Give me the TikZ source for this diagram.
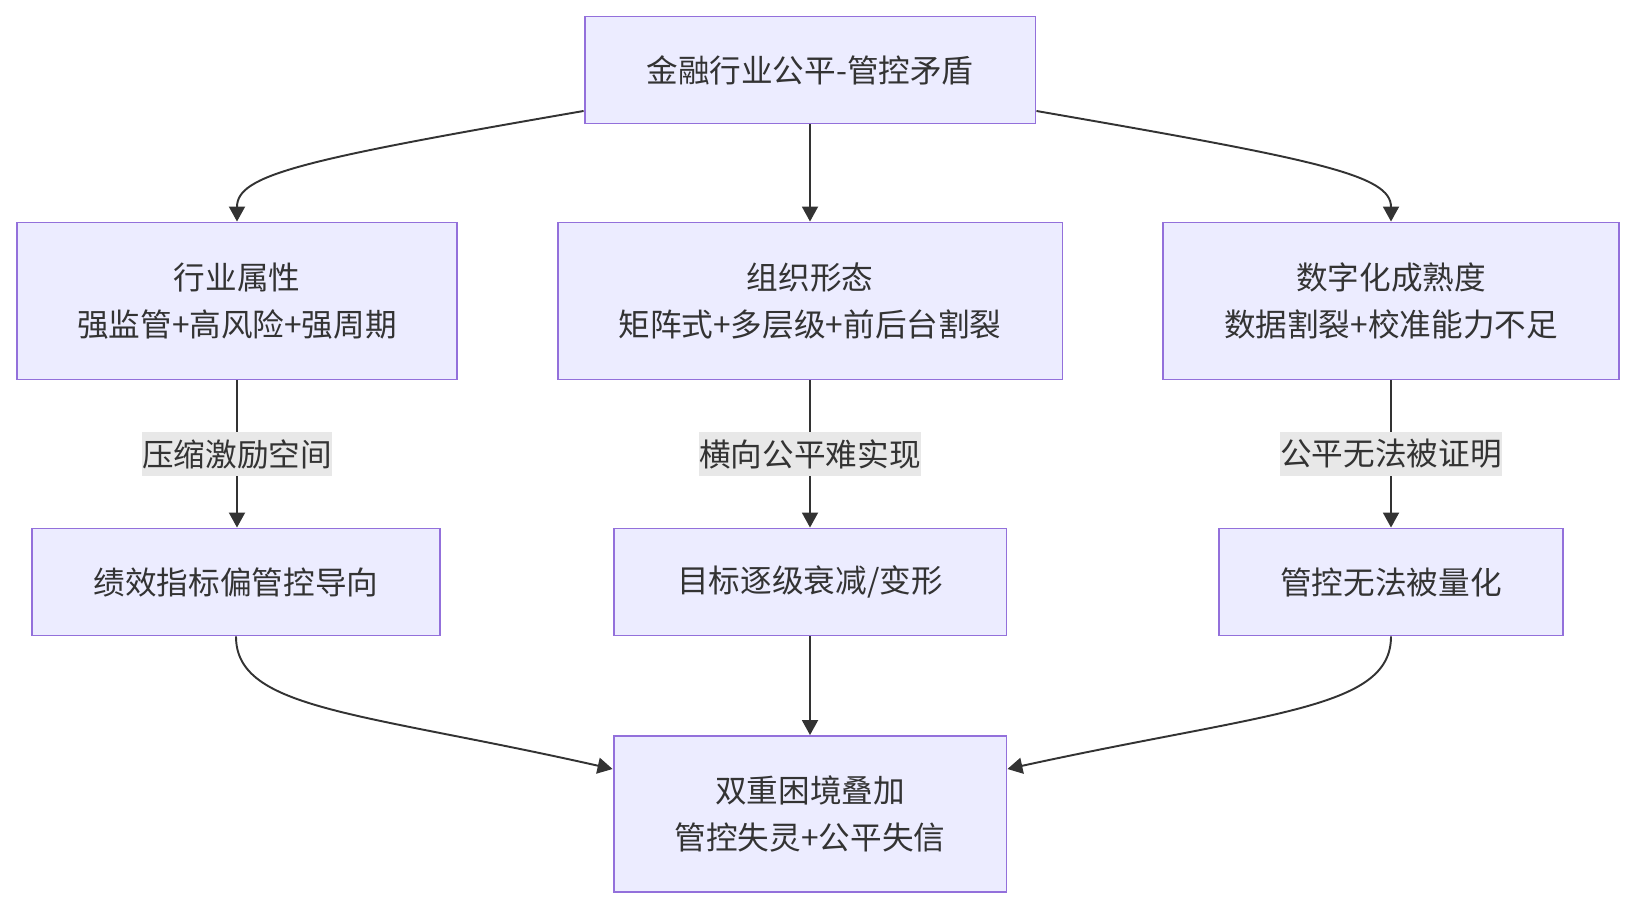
\documentclass[tikz,border=0pt]{standalone}
\usepackage{fontspec}
\setmainfont{Noto Sans CJK SC}
\usetikzlibrary{arrows.meta}
\definecolor{boxfill}{HTML}{ECECFF}
\definecolor{boxline}{HTML}{9370DB}
\definecolor{inkgray}{HTML}{333333}
\definecolor{labelbg}{HTML}{E8E8E8}
\tikzset{
  flowbox/.style={draw=boxline,fill=boxfill,line width=1.1pt,text=inkgray,
    align=center,inner sep=0pt,font=\fontsize{18}{27}\selectfont},
  flowedge/.style={-{Triangle[length=0.3cm,width=0.32cm]},line width=1.1pt,
    draw=inkgray},
  flowlabel/.style={fill=labelbg,text=inkgray,inner xsep=0pt,inner ysep=0pt,
    minimum height=0.9cm,font=\fontsize{18}{27}\selectfont}
}

\begin{document}
\begin{tikzpicture}[x=0.02cm,y=-0.02cm]
  \useasboundingbox (0,0) rectangle (1635,908);
  \node[flowbox,minimum width=9.02cm,minimum height=2.14cm] (top) at (810,70)
    {金融行业公平-管控矛盾};
  \node[flowbox,minimum width=8.82cm,minimum height=3.14cm] (hangye) at (237,301)
    {行业属性\\强监管+高风险+强周期};
  \node[flowbox,minimum width=10.1cm,minimum height=3.14cm] (zuzhi) at (810,301)
    {组织形态\\矩阵式+多层级+前后台割裂};
  \node[flowbox,minimum width=9.12cm,minimum height=3.14cm] (shuzi) at (1391,301)
    {数字化成熟度\\数据割裂+校准能力不足};
  \node[flowbox,minimum width=8.16cm,minimum height=2.14cm] (jixiao) at (236,582)
    {绩效指标偏管控导向};
  \node[flowbox,minimum width=7.86cm,minimum height=2.14cm] (mubiao) at (810,582)
    {目标逐级衰减/变形};
  \node[flowbox,minimum width=6.88cm,minimum height=2.14cm] (guankong) at (1391,582)
    {管控无法被量化};
  \node[flowbox,minimum width=7.86cm,minimum height=3.12cm] (kunjing) at (810,814)
    {双重困境叠加\\管控失灵+公平失信};
  % curved links leave and enter the side walls of the middle boxes
  \draw[flowedge] ([yshift=-0.82cm]top.west) .. controls (300,160) and (237,175)
    .. (hangye.north);
  \draw[flowedge] (top.south) -- (zuzhi.north);
  \draw[flowedge] ([yshift=-0.82cm]top.east) .. controls (1319,160) and (1391,175)
    .. (shuzi.north);
  \draw[flowedge] (hangye.south) -- node[flowlabel] {压缩激励空间} (jixiao.north -| hangye.south);
  \draw[flowedge] (zuzhi.south) -- node[flowlabel] {横向公平难实现} (mubiao.north);
  \draw[flowedge] (shuzi.south) -- node[flowlabel] {公平无法被证明} (guankong.north);
  \draw[flowedge] (jixiao.south) .. controls (236,710) and (360,712)
    .. ([yshift=0.9cm]kunjing.west);
  \draw[flowedge] (mubiao.south) -- (kunjing.north);
  \draw[flowedge] (guankong.south) .. controls (1391,710) and (1268,712)
    .. ([yshift=0.9cm]kunjing.east);
\end{tikzpicture}
\end{document}
